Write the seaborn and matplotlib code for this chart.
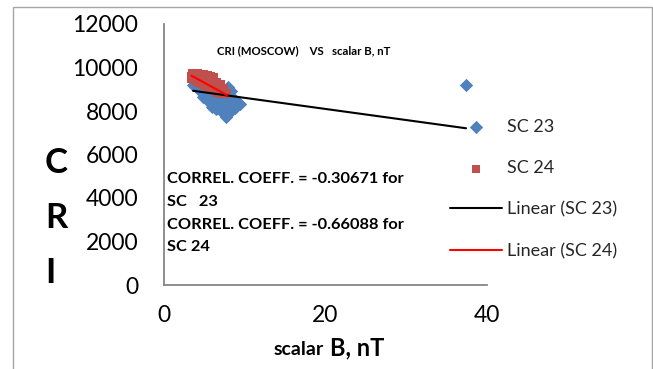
import matplotlib
matplotlib.use("Agg")
import matplotlib.pyplot as plt
import seaborn as sns
import pandas as pd
from matplotlib.patches import Rectangle

# ---------------- data ----------------
sc23_b = [3.6, 3.6, 3.9, 4.2, 4.2, 4.4, 4.8, 4.8, 4.8, 5.0, 5.1, 5.4, 5.4, 5.4,
          5.7, 6.0, 6.0, 6.0, 6.0, 6.3, 6.5, 6.5, 6.5, 6.8, 7.0, 7.0, 7.0, 7.2,
          7.5, 7.5, 7.5, 7.6, 7.7, 7.9, 7.9, 7.9, 7.9, 8.1, 8.3, 8.3, 8.3, 8.6,
          8.8, 8.8, 9.2, 9.4, 37.4]
sc23_cri = [9450, 9200, 9350, 9400, 9000, 9250, 9300, 8850, 8650, 9500, 8950, 9200, 8700, 8450,
            8850, 9400, 9100, 8600, 8200, 8350, 8900, 8500, 8100, 8650, 8800, 8400, 8000, 8150,
            8700, 8300, 7900, 8500, 7720, 9100, 8700, 8200, 7850, 8600, 8900, 8450, 8050, 8300,
            8500, 8150, 8350, 8330, 9200]

sc24_b = [3.4, 3.4, 3.5, 3.8, 3.8, 3.8, 4.2, 4.2, 4.2, 4.2, 4.6, 4.6, 4.6, 4.6,
          5.0, 5.0, 5.0, 5.0, 5.0, 5.4, 5.4, 5.4, 5.4, 5.4, 5.8, 5.8, 5.8, 5.8, 5.8,
          6.2, 6.2, 6.2, 6.2, 6.2, 6.6, 6.6, 6.6, 6.6, 7.0, 7.0, 7.0, 7.0,
          7.4, 7.4, 7.4, 7.8, 7.8]
sc24_cri = [9450, 9600, 9750, 9400, 9550, 9700, 9300, 9450, 9600, 9750, 9250, 9400, 9550, 9700,
            9150, 9300, 9450, 9600, 9700, 9080, 9230, 9380, 9530, 9650, 9000, 9150, 9300, 9450, 9600,
            8920, 9070, 9220, 9370, 9550, 8850, 9000, 9150, 9350, 8800, 8950, 9100, 9250,
            8780, 8900, 9050, 8760, 8850]

# Excel linear trendlines (slope, intercept)
trend23 = [-51.0, 9114.0]
trend24 = [-203.0, 10314.0]

series_names = ["SC 23", "SC 24"]
trend_names = ["Linear (SC 23)", "Linear (SC 24)"]
correl_lines = ["CORREL. COEFF. = -0.30671 for", "SC   23",
                "CORREL. COEFF. = -0.66088 for", "SC 24"]
title_text = "CRI (MOSCOW)    VS   scalar B, nT"
x_ticks = [0, 20, 40]
y_ticks = [0, 2000, 4000, 6000, 8000, 10000, 12000]

# ---------------- style ----------------
sns.set_style("white")
plt.rcParams["font.family"] = ["Lato", "DejaVu Sans"]

W, H = 653, 369
fig = plt.figure(figsize=(W / 100, H / 100), dpi=100)
fig.patch.set_facecolor("white")

def fx(px):
    return px / W

def fy(py):
    return 1 - py / H

ax = fig.add_axes([fx(164), fy(285), fx(487) - fx(164), fy(24) - fy(285)])

blue = "#4F81BD"
red = "#C0504D"
axis_gray = "#868686"

df23 = pd.DataFrame({"B": sc23_b, "CRI": sc23_cri})
df24 = pd.DataFrame({"B": sc24_b, "CRI": sc24_cri})

sns.scatterplot(data=df23, x="B", y="CRI", marker="D", s=46, color=blue,
                linewidth=0, label=series_names[0], ax=ax, zorder=2)
sns.scatterplot(data=df24, x="B", y="CRI", marker="s", s=28, color=red,
                linewidth=0, label=series_names[1], ax=ax, zorder=3)

x23 = [min(sc23_b), max(sc23_b)]
y23 = [trend23[0] * v + trend23[1] for v in x23]
x24 = [min(sc24_b), max(sc24_b)]
y24 = [trend24[0] * v + trend24[1] for v in x24]
sns.lineplot(x=x23, y=y23, color="black", linewidth=1.5, label=trend_names[0], ax=ax, zorder=4)
sns.lineplot(x=x24, y=y24, color="#FF0000", linewidth=1.5, label=trend_names[1], ax=ax, zorder=5)

ax.set_xlim(0, 40)
ax.set_ylim(0, 12000)
ax.set_xticks(x_ticks)
ax.set_yticks(y_ticks)
ax.set_xlabel("")
ax.set_ylabel("")
for s in ["top", "right"]:
    ax.spines[s].set_visible(False)
for s in ["left", "bottom"]:
    ax.spines[s].set_color(axis_gray)
    ax.spines[s].set_linewidth(1.3)
ax.tick_params(axis="both", which="major", direction="out", length=4.5, width=1.1,
               color=axis_gray, labelsize=16.5, labelcolor="black")
ax.tick_params(axis="y", pad=14)
ax.tick_params(axis="x", pad=10)
ax.grid(False)

handles, labels = ax.get_legend_handles_labels()
leg = ax.legend(handles, labels, loc="upper left",
                bbox_to_anchor=(fx(450), fy(119)), bbox_transform=fig.transFigure,
                frameon=False, fontsize=13, handlelength=2.9, handletextpad=0.28,
                labelspacing=1.4, borderpad=0, borderaxespad=0, scatterpoints=1)

# title
fig.text(fx(217), fy(51), title_text, fontsize=8.2, fontweight="bold",
         ha="left", va="center", color="black")

# correlation notes
for txt, yc in zip(correl_lines, [179, 201.7, 225, 247]):
    fig.text(fx(167), fy(yc), txt, fontsize=11.8, fontweight="bold",
             ha="left", va="center", color="black")

# y label letters
for ch, yc in zip(["C", "R", "I"], [163, 218, 273]):
    fig.text(fx(45), fy(yc), ch, fontsize=25, fontweight="bold",
             ha="left", va="center", color="black")

# x label
fig.text(fx(324), fy(355), "scalar", fontsize=14, fontweight="bold",
         ha="right", va="baseline", color="black")
fig.text(fx(330), fy(355), "B, nT", fontsize=17, fontweight="bold",
         ha="left", va="baseline", color="black")

# outer chart frame
fig.patches.append(Rectangle((fx(13), -0.05), fx(651.5) - fx(13), fy(6.5) + 0.05,
                             transform=fig.transFigure, fill=False,
                             edgecolor="#A6A6A6", linewidth=1.0))

fig.savefig("out.png", dpi=100)
